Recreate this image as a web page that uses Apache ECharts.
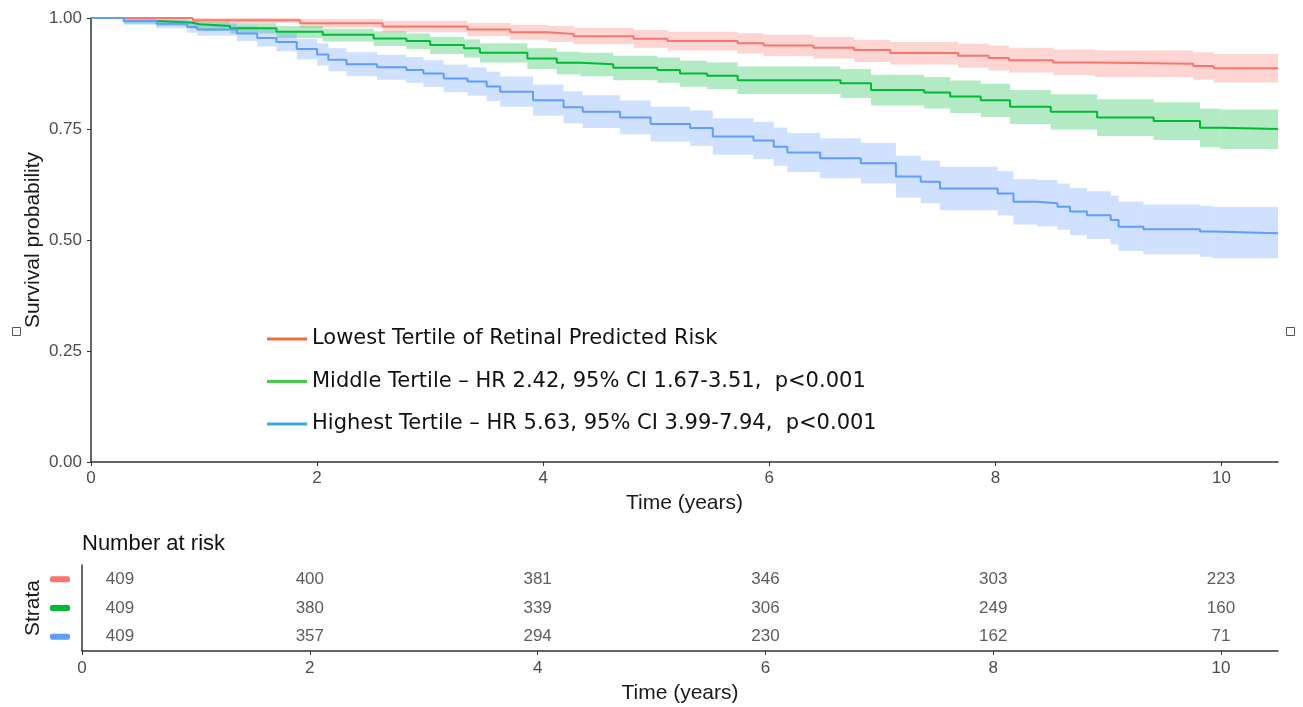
<!DOCTYPE html>
<html>
<head>
<meta charset="utf-8">
<title>Survival by tertile</title>
<script src="https://cdn.jsdelivr.net/npm/echarts@6/dist/echarts.min.js"></script>
<style>
  html, body { margin: 0; padding: 0; background: #fff; }
  #chart { width: 1303px; height: 707px; }
</style>
</head>
<body>
<div id="chart"></div>
<script>
// ---- data ----
var legendLabels = [
  'Lowest Tertile of Retinal Predicted Risk',
  'Middle Tertile \u2013 HR 2.42, 95% CI 1.67-3.51,  p<0.001',
  'Highest Tertile \u2013 HR 5.63, 95% CI 3.99-7.94,  p<0.001'
];
var strataNames = ['low', 'mid', 'high'];
var maxTime = 10.5;
var xTicks = [0, 2, 4, 6, 8, 10];

// lowest tertile
var lowTime  = [0, 0.9, 1.85, 2.58, 3.33, 3.71, 4.04, 4.27, 4.8, 5.1, 5.72, 5.95, 6.39, 6.75, 7.07, 7.67, 7.94, 8.12, 8.51, 8.88, 9.75, 9.93];
var lowSurv  = [1, 0.995, 0.988, 0.981, 0.974, 0.968, 0.964, 0.959, 0.953, 0.948, 0.943, 0.938, 0.933, 0.928, 0.921, 0.915, 0.910, 0.905, 0.900, 0.897, 0.892, 0.887];
var lowLower = [1, 0.989, 0.978, 0.968, 0.959, 0.951, 0.946, 0.941, 0.933, 0.927, 0.920, 0.914, 0.908, 0.901, 0.895, 0.888, 0.882, 0.877, 0.871, 0.867, 0.861, 0.855];
var lowUpper = [1, 1, 0.998, 0.994, 0.989, 0.985, 0.982, 0.978, 0.973, 0.969, 0.966, 0.962, 0.957, 0.951, 0.946, 0.942, 0.938, 0.933, 0.929, 0.927, 0.923, 0.919];

// middle tertile
var midTime  = [0, 0.29, 0.58, 0.88, 0.96, 1.23, 1.64, 2.05, 2.5, 2.79, 3.0, 3.3, 3.44, 3.86, 4.12, 4.33, 4.62, 5.01, 5.21, 5.45, 5.72, 6.63, 6.9, 7.37, 7.6, 7.87, 8.13, 8.49, 8.9, 9.4, 9.81, 9.99];
var midSurv  = [1, 0.993, 0.990, 0.986, 0.982, 0.977, 0.969, 0.962, 0.954, 0.948, 0.939, 0.932, 0.922, 0.909, 0.899, 0.896, 0.888, 0.883, 0.875, 0.870, 0.860, 0.853, 0.838, 0.832, 0.823, 0.815, 0.800, 0.789, 0.776, 0.768, 0.753, 0.750];
var midLower = [1, 0.987, 0.982, 0.976, 0.971, 0.965, 0.955, 0.947, 0.937, 0.930, 0.919, 0.911, 0.900, 0.885, 0.873, 0.869, 0.860, 0.854, 0.845, 0.840, 0.829, 0.820, 0.803, 0.796, 0.786, 0.777, 0.761, 0.749, 0.734, 0.725, 0.709, 0.705];
var midUpper = [1, 0.998, 0.997, 0.995, 0.992, 0.988, 0.982, 0.976, 0.970, 0.965, 0.958, 0.952, 0.943, 0.932, 0.924, 0.922, 0.915, 0.911, 0.904, 0.900, 0.891, 0.885, 0.872, 0.867, 0.859, 0.852, 0.838, 0.828, 0.817, 0.810, 0.796, 0.794];

// highest tertile
var highTime  = [0, 0.29, 0.58, 0.85, 0.94, 1.29, 1.47, 1.64, 1.82, 2.0, 2.1, 2.26, 2.53, 2.79, 2.94, 3.12, 3.33, 3.5, 3.62, 3.91, 4.18, 4.35, 4.68, 4.95, 5.3, 5.5, 5.86, 6.04, 6.16, 6.45, 6.81, 7.12, 7.34, 7.51, 8.02, 8.16, 8.37, 8.55, 8.66, 8.81, 9.02, 9.09, 9.31, 9.81, 9.92];
var highSurv  = [1, 0.993, 0.987, 0.980, 0.974, 0.965, 0.955, 0.946, 0.930, 0.918, 0.906, 0.896, 0.889, 0.883, 0.875, 0.864, 0.857, 0.846, 0.834, 0.815, 0.799, 0.789, 0.776, 0.761, 0.752, 0.733, 0.724, 0.710, 0.697, 0.684, 0.673, 0.643, 0.631, 0.616, 0.605, 0.586, 0.583, 0.575, 0.564, 0.556, 0.545, 0.530, 0.524, 0.519, 0.515];
var highLower = [1, 0.985, 0.977, 0.967, 0.960, 0.948, 0.936, 0.925, 0.907, 0.893, 0.880, 0.869, 0.861, 0.854, 0.845, 0.833, 0.825, 0.813, 0.800, 0.780, 0.763, 0.752, 0.738, 0.722, 0.712, 0.692, 0.682, 0.667, 0.653, 0.639, 0.627, 0.596, 0.583, 0.567, 0.555, 0.535, 0.531, 0.523, 0.511, 0.502, 0.490, 0.475, 0.468, 0.462, 0.459];
var highUpper = [1, 1, 0.997, 0.993, 0.988, 0.982, 0.975, 0.967, 0.953, 0.943, 0.932, 0.923, 0.917, 0.912, 0.905, 0.895, 0.889, 0.879, 0.868, 0.850, 0.835, 0.826, 0.814, 0.800, 0.792, 0.774, 0.766, 0.753, 0.741, 0.729, 0.719, 0.690, 0.679, 0.665, 0.655, 0.637, 0.635, 0.627, 0.617, 0.610, 0.600, 0.586, 0.580, 0.577, 0.575];

// number at risk
var riskTimes = [0, 2, 4, 6, 8, 10];
var riskLow  = [409, 400, 381, 346, 303, 223];
var riskMid  = [409, 380, 339, 306, 249, 160];
var riskHigh = [409, 357, 294, 230, 162, 71];

// ---- styling ----
var FONT = '"Liberation Sans", Arial, sans-serif';
var LEGEND_FONT = '"DejaVu Sans", "Liberation Sans", sans-serif';
var lineColors = ['#F8766D', '#00BA38', '#619CFF'];
var bandColors = ['rgba(248,118,109,0.3)', 'rgba(0,186,56,0.3)', 'rgba(97,156,255,0.3)'];
var legendColors = ['#EE6B3B', '#45CB4F', '#3BA7DF'];
var axisColor = '#333333';
var tickText = '#4D4D4D';

var groups = [
  { time: lowTime,  surv: lowSurv,  lower: lowLower,  upper: lowUpper,  risk: riskLow },
  { time: midTime,  surv: midSurv,  lower: midLower,  upper: midUpper,  risk: riskMid },
  { time: highTime, surv: highSurv, lower: highLower, upper: highUpper, risk: riskHigh }
];

// step curve: each value holds until the next event, last one until end of follow-up
function stepData(g) {
  var d = g.time.map(function (t, i) { return [t, g.surv[i]]; });
  d.push([maxTime, g.surv[g.surv.length - 1]]);
  return d;
}

// confidence band as one rectangle per step interval
function bandData(g) {
  return g.time.map(function (t, i) {
    var next = i < g.time.length - 1 ? g.time[i + 1] : maxTime;
    return [t, next, g.lower[i], g.upper[i]];
  });
}

function renderBand(params, api) {
  var p1 = api.coord([api.value(0), api.value(3)]);
  var p2 = api.coord([api.value(1), api.value(2)]);
  return {
    type: 'rect',
    shape: { x: p1[0], y: p1[1], width: p2[0] - p1[0], height: p2[1] - p1[1] },
    style: { fill: api.visual('color') }
  };
}

var chart = echarts.init(document.getElementById('chart'), null, { renderer: 'canvas' });

var series = [];
groups.forEach(function (g, i) {
  series.push({
    name: 'band-' + strataNames[i],
    type: 'custom',
    xAxisIndex: 0, yAxisIndex: 0,
    renderItem: renderBand,
    itemStyle: { color: bandColors[i] },
    encode: { x: [0, 1], y: [2, 3] },
    clip: true,
    silent: true,
    data: bandData(g),
    z: 1
  });
});
groups.forEach(function (g, i) {
  series.push({
    name: legendLabels[i],
    type: 'line',
    xAxisIndex: 0, yAxisIndex: 0,
    step: 'end',
    showSymbol: false,
    symbol: 'none',
    color: lineColors[i],
    lineStyle: { color: lineColors[i], width: 2 },
    data: stepData(g),
    z: 3
  });
});
groups.forEach(function (g, i) {
  series.push({
    name: 'risk-' + strataNames[i],
    type: 'scatter',
    xAxisIndex: 1, yAxisIndex: 1,
    symbolSize: 0,
    silent: true,
    data: riskTimes.map(function (t, j) {
      var item = { value: [t, i, g.risk[j]] };
      if (j === 0) item.label = { offset: [38, 0] };
      return item;
    }),
    label: {
      show: true,
      position: 'inside',
      formatter: function (p) { return String(p.value[2]); },
      fontFamily: FONT,
      fontSize: 17,
      color: '#333333'
    }
  });
});

var option = {
  animation: false,
  backgroundColor: '#ffffff',
  textStyle: { fontFamily: FONT },
  title: {
    text: 'Number at risk',
    left: 77,
    top: 528,
    textStyle: { fontFamily: FONT, fontSize: 22, fontWeight: 'normal', color: '#111111' }
  },
  legend: {
    orient: 'vertical',
    left: 262,
    top: 322,
    icon: 'rect',
    itemWidth: 40,
    itemHeight: 3,
    itemGap: 18.5,
    selectedMode: false,
    textStyle: { fontFamily: LEGEND_FONT, fontSize: 21, color: '#111111', lineHeight: 24 },
    data: legendLabels.map(function (n, i) {
      return { name: n, itemStyle: { color: legendColors[i] } };
    })
  },
  grid: [
    { left: 91, top: 18, width: 1187, height: 444 },
    { left: 82, top: 565, width: 1196, height: 86 }
  ],
  xAxis: [
    {
      gridIndex: 0, type: 'value', min: 0, max: maxTime, interval: 2,
      name: 'Time (years)', nameLocation: 'middle', nameGap: 31,
      nameTextStyle: { fontFamily: FONT, fontSize: 21, color: '#1A1A1A' },
      axisLine: { show: true, lineStyle: { color: axisColor, width: 1.5 } },
      axisTick: { show: true, length: 4, customValues: xTicks, lineStyle: { color: axisColor } },
      axisLabel: { customValues: xTicks, margin: 8, fontFamily: FONT, fontSize: 17, color: tickText },
      splitLine: { show: false }
    },
    {
      gridIndex: 1, type: 'value', min: 0, max: maxTime, interval: 2,
      name: 'Time (years)', nameLocation: 'middle', nameGap: 32,
      nameTextStyle: { fontFamily: FONT, fontSize: 21, color: '#1A1A1A' },
      axisLine: { show: true, lineStyle: { color: axisColor, width: 1.5 } },
      axisTick: { show: true, length: 4, customValues: xTicks, lineStyle: { color: axisColor } },
      axisLabel: { customValues: xTicks, margin: 9, fontFamily: FONT, fontSize: 17, color: tickText },
      splitLine: { show: false }
    }
  ],
  yAxis: [
    {
      gridIndex: 0, type: 'value', min: 0, max: 1, interval: 0.25,
      name: 'Survival probability', nameLocation: 'middle', nameGap: 47,
      nameMoveOverlap: false,
      nameTextStyle: { fontFamily: FONT, fontSize: 21, color: '#1A1A1A' },
      axisLine: { show: true, lineStyle: { color: axisColor, width: 1.5 } },
      axisTick: { show: true, length: 4, lineStyle: { color: axisColor } },
      axisLabel: {
        margin: 9, fontFamily: FONT, fontSize: 17, color: tickText,
        formatter: function (v) { return v.toFixed(2); }
      },
      splitLine: { show: false }
    },
    {
      gridIndex: 1, type: 'category', data: strataNames, inverse: true,
      name: 'Strata', nameLocation: 'middle', nameGap: 38,
      nameMoveOverlap: false,
      nameTextStyle: { fontFamily: FONT, fontSize: 21, color: '#1A1A1A' },
      axisLine: { show: true, lineStyle: { color: axisColor, width: 1.5 } },
      axisTick: { show: false },
      axisLabel: {
        margin: 12,
        formatter: function (v, i) { return '{s' + i + '|}'; },
        rich: {
          s0: { width: 20, height: 6, backgroundColor: lineColors[0], borderRadius: 2 },
          s1: { width: 20, height: 6, backgroundColor: lineColors[1], borderRadius: 2 },
          s2: { width: 20, height: 6, backgroundColor: lineColors[2], borderRadius: 2 }
        }
      },
      splitLine: { show: false }
    }
  ],
  graphic: [
    { type: 'rect', left: 10, top: 325, shape: { width: 8, height: 8 }, style: { fill: 'none', stroke: '#555555', lineWidth: 1 } },
    { type: 'rect', left: 1284, top: 325, shape: { width: 8, height: 8 }, style: { fill: 'none', stroke: '#555555', lineWidth: 1 } }
  ],
  series: series
};

chart.setOption(option);
</script>
</body>
</html>
